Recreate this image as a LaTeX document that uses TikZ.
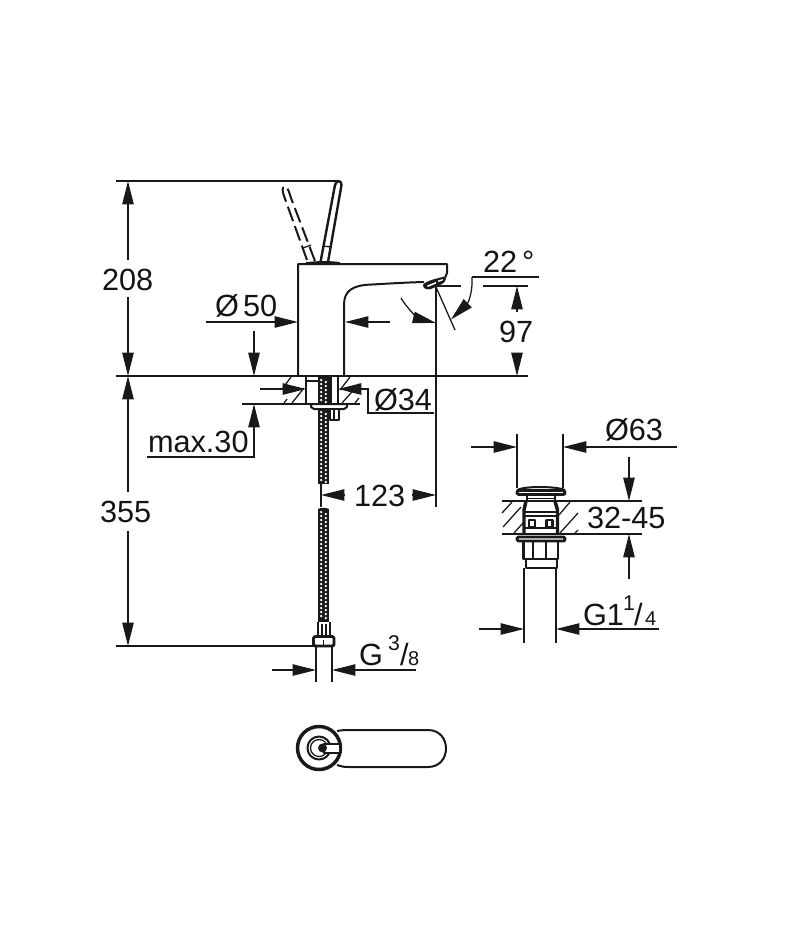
\documentclass[tikz,border=0pt]{standalone}
\usepackage{fontspec}
\setmainfont{Liberation Sans}
\usetikzlibrary{arrows.meta}
\tikzset{
  thinline/.style={line width=0.95pt,draw=black!90},
  partline/.style={line width=1.5pt,draw=black!90,line join=round},
  heavyline/.style={line width=2.2pt,draw=black!90,line join=round},
  hatchline/.style={line width=0.95pt,draw=black!90},
  dimtip/.style={thinline,-{Triangle[length=17.5pt,width=8.5pt]}},
  dimlabel/.style={anchor=base west,inner sep=0pt,outer sep=0pt,text=black!92,font=\fontsize{23}{24}\selectfont},
  smalllabel/.style={anchor=base west,inner sep=0pt,outer sep=0pt,text=black!92,font=\fontsize{15}{16}\selectfont}
}
\newcommand{\hosepiece}[2]{%
  \fill[black!90] (318,#1) rectangle (329,#2);
  \pgfmathtruncatemacro{\hoseend}{#2-3}
  \pgfmathtruncatemacro{\hosestart}{#1+3}
  \pgfmathtruncatemacro{\hosenext}{#1+7}
  \foreach \yy in {\hosestart,\hosenext,...,\hoseend}{
    \fill[white] (321.2,\yy) circle (1.3);
    \fill[white] (325.8,\yy+2) circle (1.3);
  }
}
\begin{document}
\begin{tikzpicture}[x=0.75pt,y=-0.75pt]
\useasboundingbox (0,0) rectangle (800,950);
\fill[white] (0,0) rectangle (800,950);

% --- Tap body
\draw[partline] (298,376) -- (298,264) -- (447,264) -- (447,273) -- (445,278);
\draw[partline] (344,376) -- (344,305) .. controls (344,291) and (352,285) .. (372,284.5) .. controls (390,283.5) and (405,282.5) .. (424,282);
\draw[partline,line width=2pt] (306,263.5) .. controls (320,262) and (330,262) .. (340,263.5);
% aerator
\fill[black!90] (423,285) .. controls (425,281) and (438,278) .. (445,276.5) .. controls (447,280) and (445,283) .. (440,285) -- (431,289) .. controls (427,290) and (423,289) .. (423,285) -- cycle;
\fill[white] (427,285.5) -- (436,282) -- (436,283.5) -- (428,287) -- cycle;
\fill[white] (438,280.5) -- (443,279) -- (442.5,280.5) -- (438,282) -- cycle;

% --- Handle
\draw[partline,line width=1.8pt] (320.5,262) -- (335,185) .. controls (336,180) and (342,180) .. (341.5,185) -- (328,262);
\draw[thinline] (323,246) -- (331,247);
\draw[partline,dash pattern=on 11.5pt off 4pt] (307,260) -- (284,196) .. controls (282,190) and (282,187) .. (285,187);
\draw[partline,dash pattern=on 11.5pt off 4pt] (315,261) -- (291,198) .. controls (289,192) and (288,187) .. (285,187);
\draw[thinline] (303,248) -- (311,245);

% --- Sink section under tap
\draw[partline] (306,376) -- (306,404) (338,376) -- (338,404);
\draw[partline] (306,381) -- (318,381);
\hosepiece{377}{484}
\fill[black!90] (329,377) rectangle (332,404);
\draw[partline,fill=white] (311,404) -- (347,404) -- (347,407) -- (344,409) -- (314,409) -- (311,407) -- cycle;
\draw[partline,fill=white] (330,409) rectangle (339,420);
\draw[thinline] (334,409) -- (334,420);
\hosepiece{409}{484}
\hosepiece{509}{622}
\fill[black!90] (318,509) .. controls (320,507.5) and (327,507.5) .. (329,509) -- cycle;
% hose ferrule and nut
\draw[partline] (318,622) -- (318,636) (330,622) -- (330,636);
\draw[thinline] (322,624) -- (322,636) (326,624) -- (326,636);
\draw[heavyline,fill=white,rounded corners=1.5pt] (313.5,636.5) rectangle (334,646);
\draw[thinline] (323.5,640) -- (323.5,646);
\draw[thinline] (316,646) -- (316,682) (332,646) -- (332,682);

% hatching, tap section
\foreach \ax/\ay/\bx/\by in {283/388/291/377, 292/403/304/388, 284/403/287/399, 340/390/350/377, 342/403/359/384, 355/403/359/398}{
  \draw[hatchline] (\ax,\ay) -- (\bx,\by);
}

% --- Main dimension and reference lines
\coordinate (toplineL) at (116,181); \coordinate (toplineR) at (340,181);
\draw[thinline] (toplineL) -- (toplineR);
\coordinate (decklineL) at (116,376); \coordinate (decklineR) at (528,376);
\draw[thinline] (decklineL) -- (decklineR);
\coordinate (bottomlineL) at (116,646); \coordinate (bottomlineR) at (314,646);
\draw[thinline] (bottomlineL) -- (bottomlineR);
\coordinate (undersideL) at (242,404); \coordinate (undersideR) at (360,404);
\draw[thinline] (undersideL) -- (undersideR);

% 208
\node[dimlabel] (label208) at (102,290) {208};
\coordinate (d208a) at (128,260); \coordinate (d208top) at (128,181);
\coordinate (d208b) at (128,297); \coordinate (d208bot) at (128,376);
\draw[dimtip] (d208a) -- (d208top);
\draw[dimtip] (d208b) -- (d208bot);
% 355
\node[dimlabel] (label355) at (100,522) {355};
\coordinate (d355a) at (128,492); \coordinate (d355top) at (128,376);
\coordinate (d355b) at (128,531); \coordinate (d355bot) at (128,646);
\draw[dimtip] (d355a) -- (d355top);
\draw[dimtip] (d355b) -- (d355bot);

% Ø50
\node[dimlabel] (labelD50) at (215,316) {Ø};
\node[dimlabel] (label50) at (243,316) {50};
\coordinate (d50a) at (206,322); \coordinate (d50tip) at (298,322);
\draw[dimtip] (d50a) -- (d50tip);
\coordinate (d50b) at (390,322); \coordinate (d50tipb) at (345,322);
\draw[dimtip] (d50b) -- (d50tipb);

% max.30
\coordinate (mxtop) at (254,331); \coordinate (mxdeck) at (254,376);
\draw[dimtip] (mxtop) -- (mxdeck);
\node[dimlabel] (labelmax) at (148,452) {max.30};
\coordinate (mxa) at (147,457); \coordinate (mxb) at (254,457); \coordinate (mxtip) at (254,404);
\draw[dimtip] (mxa) -- (mxb) -- (mxtip);

% Ø34
\node[dimlabel] (labelD34) at (374,410) {Ø34};
\coordinate (d34a) at (260,389); \coordinate (d34tip) at (306,389);
\draw[dimtip] (d34a) -- (d34tip);
\coordinate (d34b) at (434,413); \coordinate (d34c) at (368,413); \coordinate (d34d) at (368,389); \coordinate (d34tipb) at (338,389);
\draw[dimtip] (d34b) -- (d34c) -- (d34d) -- (d34tipb);

% 123
\coordinate (ext123l) at (321,484); \coordinate (ext123lb) at (321,507);
\draw[thinline] (ext123l) -- (ext123lb);
\coordinate (ext123r) at (436,287); \coordinate (ext123rb) at (436,507);
\draw[thinline] (ext123r) -- (ext123rb);
\node[dimlabel] (label123) at (354,506) {123};
\coordinate (d123a) at (345,495); \coordinate (d123tipa) at (321,495);
\coordinate (d123b) at (412,495); \coordinate (d123tipb) at (436,495);
\draw[dimtip] (d123a) -- (d123tipa);
\draw[dimtip] (d123b) -- (d123tipb);

% 22° and angle
\node[dimlabel] (label22) at (483,272) {22\,°};
\coordinate (u22a) at (539,277); \coordinate (u22b) at (472,277);
\draw[thinline] (u22a) -- (u22b);
\coordinate (tilta) at (436,287); \coordinate (tiltb) at (455,330);
\draw[thinline] (tilta) -- (tiltb);
\coordinate (arcstart) at (472,277); \coordinate (arctip) at (451,319.5);
\draw[dimtip] (arcstart) .. controls (473,292) and (468,303) .. (arctip);
\coordinate (arcb) at (401,298); \coordinate (arcbtip) at (436,323);
\draw[dimtip] (arcb) .. controls (408,310) and (420,319) .. (arcbtip);

% 97
\coordinate (l97a) at (436,286); \coordinate (l97b) at (461,286);
\draw[thinline] (l97a) -- (l97b);
\coordinate (l97c) at (483,286); \coordinate (l97d) at (528,286);
\draw[thinline] (l97c) -- (l97d);
\node[dimlabel] (label97) at (499,342) {97};
\coordinate (d97a) at (517,312); \coordinate (d97tip) at (517,286);
\coordinate (d97b) at (517,353); \coordinate (d97tipb) at (517,376);
\draw[dimtip] (d97a) -- (d97tip);
\draw[dimtip] (d97b) -- (d97tipb);

% G 3/8
\coordinate (g38a) at (272,670); \coordinate (g38tip) at (316,670);
\draw[dimtip] (g38a) -- (g38tip);
\coordinate (g38b) at (416,670); \coordinate (g38tipb) at (332,670);
\draw[dimtip] (g38b) -- (g38tipb);
\node[dimlabel] (labelG38) at (359,665) {G};
\node[smalllabel,font=\fontsize{16}{17}\selectfont] (labelG38n) at (388,650) {3};
\node[dimlabel] (labelG38s) at (400,665) {/};
\node[smalllabel] (labelG38d) at (408,665) {8};

% --- Waste plug
\draw[thinline] (517,434) -- (517,488) (563,434) -- (563,488);
\coordinate (d63a) at (471,447); \coordinate (d63tip) at (517,447);
\draw[dimtip] (d63a) -- (d63tip);
\coordinate (d63b) at (677,447); \coordinate (d63tipb) at (563,447);
\draw[dimtip] (d63b) -- (d63tipb);
\node[dimlabel] (labelD63) at (605,440) {Ø63};

% plug head
\draw[partline,fill=white] (517,490) .. controls (525,486) and (555,486) .. (565,490);
\draw[heavyline,fill=white,rounded corners=1.5pt] (517,490.5) rectangle (565,494.5);
\draw[partline] (527,495) -- (527,501) (555,495) -- (555,501);
\draw[thinline] (527,498.5) -- (555,498.5);
% deck
\coordinate (plugdeckL) at (502,501); \coordinate (plugdeckR) at (642,501);
\draw[thinline] (plugdeckL) -- (plugdeckR);
\coordinate (plugunderL) at (502,534); \coordinate (plugunderR) at (642,534);
\draw[thinline] (plugunderL) -- (plugunderR);
% plug body in sink
\draw[line width=2.6pt,draw=black!90,line join=round] (526,501) -- (524,510) -- (524,534) (555,501) -- (557.5,510) -- (557.5,534);
\draw[partline] (524,512) -- (558,512);
\draw[thinline] (524,516) -- (558,516);
\draw[heavyline] (529,520) rectangle (535,527);
\draw[heavyline] (546.5,520) rectangle (552.5,527);
\draw[partline] (524,528) -- (558,528);
% flange
\draw[heavyline,fill=white,rounded corners=1pt] (517,537) rectangle (565,541);
\draw[partline] (524,534) -- (558,534);
% nut
\draw[heavyline] (523.5,541) -- (523.5,559) -- (558,559) -- (558,541);
\draw[heavyline] (533,541) -- (533,559) (546,541) -- (546,559);
\draw[partline] (526,559) -- (526,568) -- (557,568) -- (557,559);
\draw[thinline] (524,568) -- (524,643) (556,568) -- (556,643);

% plug hatching
\foreach \ax/\ay/\bx/\by in {502/513/512/502, 503/527/521/507, 514/533/523/523, 559/515/570/502, 560/533/578/513, 575/533/578/530}{
  \draw[hatchline] (\ax,\ay) -- (\bx,\by);
}

% 32-45
\node[dimlabel] (label3245) at (587,528) {32-45};
\coordinate (d32a) at (629,457); \coordinate (d32tip) at (629,501);
\draw[dimtip] (d32a) -- (d32tip);
\coordinate (d32b) at (629,579); \coordinate (d32tipb) at (629,534);
\draw[dimtip] (d32b) -- (d32tipb);

% G1 1/4
\coordinate (g114a) at (479,629); \coordinate (g114tip) at (524,629);
\draw[dimtip] (g114a) -- (g114tip);
\coordinate (g114b) at (659,629); \coordinate (g114tipb) at (556,629);
\draw[dimtip] (g114b) -- (g114tipb);
\node[dimlabel] (labelG1) at (583,625) {G1};
\node[smalllabel,font=\fontsize{16}{17}\selectfont] (labelG1n) at (623,610) {1};
\node[dimlabel] (labelG1s) at (634,625) {/};
\node[smalllabel] (labelG1d) at (645,625) {4};

% --- Top view
\draw[partline] (337,731) .. controls (343,730) and (345,730) .. (350,730) -- (428,730) .. controls (452,730) and (452,767) .. (428,767) -- (350,767) .. controls (345,767) and (343,767) .. (337,765);
\draw[line width=2.6pt,draw=black!90] (319,748) circle (21.5);
\draw[partline] (319,748) circle (11.5);
\draw[thinline] (319,748) circle (8.5);
\draw[partline,fill=white] (324,743.5) -- (340,743.5) -- (340,752.5) -- (324,752.5) -- cycle;
\fill[black!90] (322.5,748) circle (4.5);
\end{tikzpicture}
\end{document}
